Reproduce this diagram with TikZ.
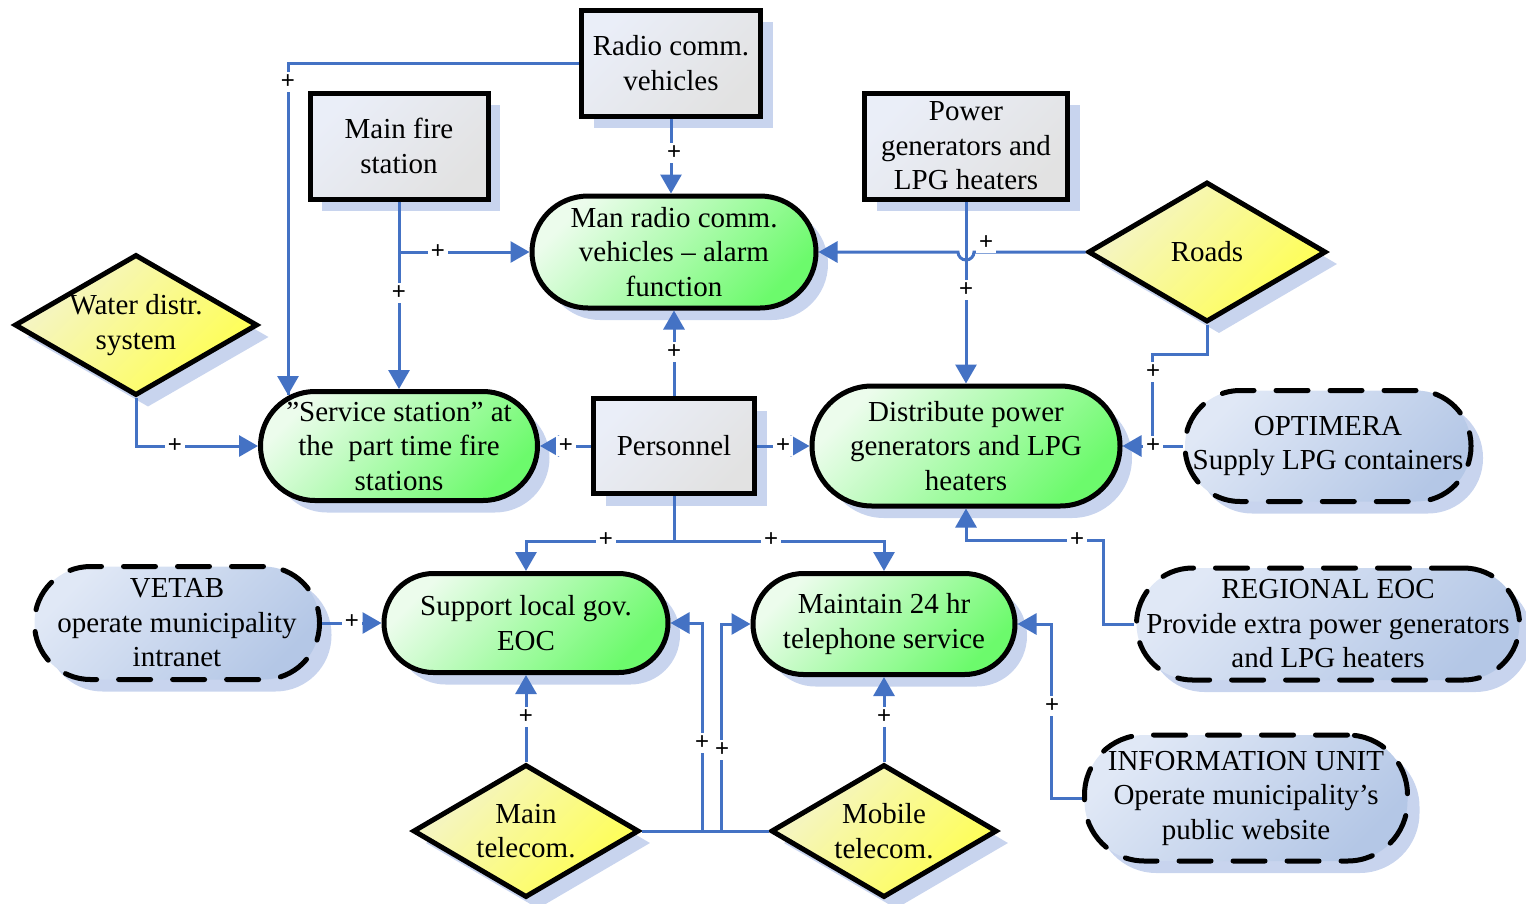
\documentclass[tikz,border=0pt]{standalone}
\usepackage{fontspec}
\setmainfont{Liberation Serif}
\newfontfamily\plusfont{Liberation Sans}
\usetikzlibrary{arrows.meta,shapes.geometric,shapes.misc,shadows,calc}
\definecolor{linkblue}{RGB}{68,114,196}
\definecolor{shadowblue}{RGB}{200,212,238}
\definecolor{boxA}{RGB}{234,238,248}
\definecolor{boxB}{RGB}{226,226,226}
\definecolor{greenA}{RGB}{236,252,236}
\definecolor{greenB}{RGB}{108,250,108}
\definecolor{yellowA}{RGB}{244,244,204}
\definecolor{yellowB}{RGB}{255,255,80}
\definecolor{blueA}{RGB}{224,232,246}
\definecolor{blueB}{RGB}{180,199,230}
\begin{document}
\begin{tikzpicture}[x=1pt,y=-1pt,
  font=\fontsize{29}{34.5}\selectfont,
  every node/.style={align=center, inner sep=0pt},
  blueshadow/.style={drop shadow={shadow xshift=12pt, shadow yshift=-12pt, fill=shadowblue, opacity=1}},
  resource/.style={rectangle, blueshadow, draw=black, line width=5pt,
    top color=boxA, bottom color=boxB, shading angle=45},
  activity/.style={rounded rectangle, blueshadow, draw=black, line width=5pt,
    top color=greenA, bottom color=greenB, shading angle=45},
  actor/.style={rectangle, rounded corners=#1, blueshadow, draw=black, line width=5pt,
    dash pattern=on 32pt off 22pt, line cap=round,
    top color=blueA, bottom color=blueB, shading angle=45},
  condition/.style={diamond, aspect=1.7, blueshadow, draw=black, line width=5pt, line join=miter,
    top color=yellowA, bottom color=yellowB, shading angle=45},
  link/.style={draw=linkblue, line width=3pt},
  tip/.style={-{Triangle[length=19pt,width=21pt]}},
  plus/.style={fill=white, inner sep=3pt, font=\plusfont\fontsize{24}{24}\selectfont, text=black}
]
\useasboundingbox (0,0) rectangle (1526,903);

% resources
\node[resource, minimum width=179pt, minimum height=106pt] (radio) at (671,63) {Radio comm.\\vehicles};
\node[resource, minimum width=178pt, minimum height=106pt] (mainfire) at (399,146) {Main fire\\station};
\node[resource, minimum width=203pt, minimum height=106pt] (power) at (966,146) {Power\\generators and\\LPG heaters};
\node[resource, minimum width=161pt, minimum height=95pt] (pers) at (674,446) {Personnel};

% activities
\node[activity, minimum width=284pt, minimum height=112pt] (manradio) at (674,252) {Man radio comm.\\vehicles -- alarm\\function};
\node[activity, minimum width=277pt, minimum height=109pt] (ss) at (399,446) {”Service station” at\\the\ \ part time fire\\stations};
\node[activity, minimum width=308pt, minimum height=120pt] (dist) at (966,446) {Distribute power\\generators and LPG\\heaters};
\node[activity, minimum width=284pt, minimum height=99pt] (support) at (526,623) {Support local gov.\\EOC};
\node[activity, minimum width=262pt, minimum height=101pt] (maintain) at (884,624) {Maintain 24 hr\\telephone service};

% external actors
\node[actor=55pt, minimum width=286pt, minimum height=111pt] (optimera) at (1328,446) {OPTIMERA\\Supply LPG containers};
\node[actor=56pt, minimum width=285pt, minimum height=113pt] (vetab) at (177,623) {VETAB\\operate municipality\\intranet};
\node[actor=56pt, minimum width=383pt, minimum height=112pt] (regional) at (1328,624) {REGIONAL EOC\\Provide extra power generators\\and LPG heaters};
\node[actor=60pt, minimum width=323pt, minimum height=126pt] (info) at (1246,798) {INFORMATION UNIT\\Operate municipality’s\\public website};

% conditions
\node[condition, minimum width=238pt, minimum height=140pt] (roads) at (1207,252) {Roads};
\node[condition, minimum width=243pt, minimum height=141pt] (water) at (136,325) {Water distr.\\system};
\node[condition, minimum width=226pt, minimum height=133pt] (maintel) at (526,831) {Main\\telecom.};
\node[condition, minimum width=226pt, minimum height=133pt] (mobile) at (884,831) {Mobile\\telecom.};

% junction points
\coordinate (ssin) at (288,395);
\coordinate (jA) at ($(support.east)+(32,0)$);
\coordinate (jB) at ($(maintain.west)+(-29,0)$);
\coordinate (optj) at ($(dist.east)!0.5!(optimera.west)$);

% connectors
\draw[link] (radio.west) -| (ssin);
\draw[link,tip] (radio.west -| ssin) -- (ssin);
\draw[link,tip] (radio.south) -- (radio.south |- manradio.north);
\draw[link,tip] (mainfire.south) -- (ss.north);
\draw[link,tip] (mainfire.south |- manradio.west) -- (manradio.west);
\draw[link,tip] (power.south) -- (dist.north);
\draw[link,tip] (roads.west) -- ($(power.south |- roads.west)+(8,0)$)
  arc[start angle=0, end angle=-180, radius=8pt] -- (manradio.east);
\draw[link] (roads.south) -- ++(0,30) -| (optj);
\draw[link,tip] (optimera.west) -- (dist.east);
\draw[link,tip] (water.south) |- (ss.west);
\draw[link,tip] (pers.west) -- (ss.east);
\draw[link,tip] (pers.north) -- (manradio.south);
\draw[link,tip] (pers.east) -- (dist.west);
\draw[link,tip] (pers.south) -- ++(0,45) -| (support.north);
\draw[link,tip] (pers.south) -- ++(0,45) -| (maintain.north);
\draw[link,tip] (regional.west) -- ++(-31,0) |- ($(dist.south)+(0,32)$) -- (dist.south);
\draw[link,tip] (vetab.east) -- (support.west);
\draw[link,tip] (maintel.north) -- (support.south);
\draw[link,tip] (mobile.north) -- (maintain.south);
\draw[link,tip] (mobile.west) -| (jA) -- (support.east);
\draw[link,tip] (maintel.east) -| (jB) -- (maintain.west);
\draw[link,tip] (info.west) -- ++(-31,0) |- (maintain.east);

% polarity marks
\node[plus] (p1) at (288,82) {+};
\node[plus] (p2) at (674,153) {+};
\node[plus] (p3) at (438,252) {+};
\node[plus] (p4) at (399,293) {+};
\node[plus] (p5) at (986,243) {+};
\node[plus] (p6) at (966,290) {+};
\node[plus] (p7) at (1153,372) {+};
\node[plus] (p8) at (1153,446) {+};
\node[plus] (p9) at (175,446) {+};
\node[plus] (p10) at (566,446) {+};
\node[plus] (p11) at (674,352) {+};
\node[plus] (p12) at (783,446) {+};
\node[plus] (p13) at (606,540) {+};
\node[plus] (p14) at (771,540) {+};
\node[plus] (p15) at (1077,540) {+};
\node[plus] (p16) at (352,622) {+};
\node[plus] (p17) at (526,717) {+};
\node[plus] (p18) at (884,717) {+};
\node[plus] (p19) at (702,743) {+};
\node[plus] (p20) at (722,750) {+};
\node[plus] (p21) at (1052,706) {+};
\end{tikzpicture}
\end{document}
